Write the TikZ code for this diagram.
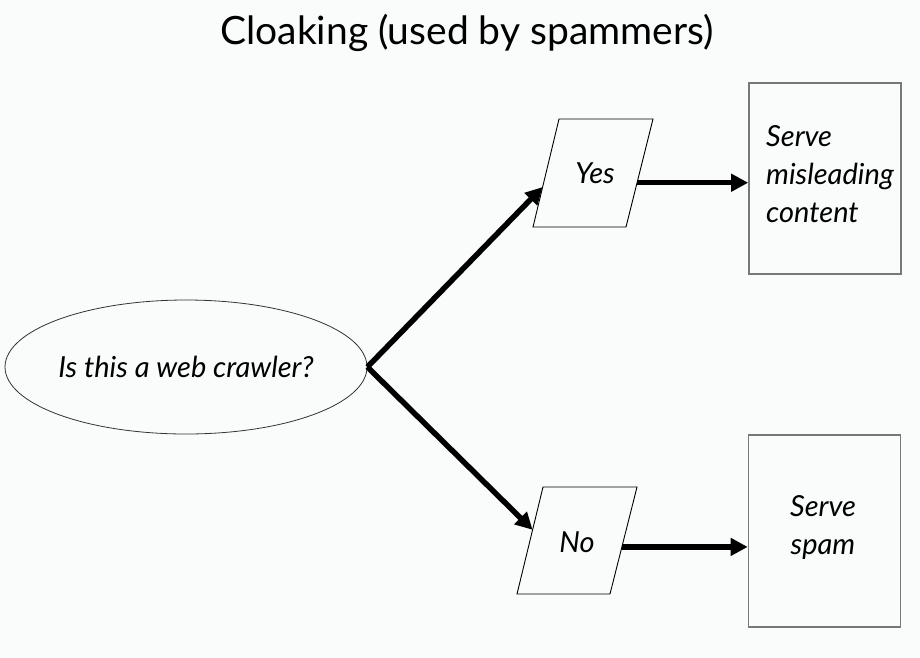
\documentclass[tikz,border=0pt]{standalone}
\usepackage{fontspec}
\setmainfont{Lato}
\usetikzlibrary{arrows.meta,calc,shapes.geometric}
\definecolor{bgc}{RGB}{250,252,252}
\definecolor{boxc}{RGB}{120,120,120}
\begin{document}
\begin{tikzpicture}[x=1pt,y=-1pt,
  flow/.style={line width=5.5pt,-{Triangle[length=17pt,width=17pt]}},
  para/.style={draw=black,line width=0.9pt},
  lbl/.style={inner sep=0pt,font=\fontsize{29}{38}\selectfont\itshape},
  result/.style={draw=boxc,line width=1.6pt,minimum width=152pt,minimum height=191pt,inner sep=0pt}]
\fill[bgc] (0,0) rectangle (920,657);
\useasboundingbox (0,0) rectangle (920,657);
\node (title) at (467,33) {\fontsize{39}{44}\selectfont Cloaking (used by spammers)};
\node[draw=black!80,line width=0.8pt,ellipse,minimum width=362pt,minimum height=134pt,inner sep=0pt,font=\fontsize{29}{34}\selectfont\itshape] (q) at (186,367) {Is this a web crawler?};
% Yes parallelogram
\coordinate (ytl) at (559,119); \coordinate (ytr) at (653,119);
\coordinate (ybr) at (626,227); \coordinate (ybl) at (533,227);
\draw[para] (ytl) -- (ytr) -- (ybr) -- (ybl) -- cycle;
\node[lbl] (yes) at (595,173) {Yes};
% No parallelogram
\coordinate (ntl) at (543,487); \coordinate (ntr) at (637,487);
\coordinate (nbr) at (610,594); \coordinate (nbl) at (517,594);
\draw[para] (ntl) -- (ntr) -- (nbr) -- (nbl) -- cycle;
\node[lbl] (no) at (577,542) {No};
\node[result] (b1) at (825,178.5) {};
\node[result,minimum height=192pt] (b2) at (824.5,531) {};
\node[lbl,anchor=west,align=left] (t1) at (766,174) {Serve\\misleading\\content};
\node[lbl,align=center] (t2) at (823,527) {Serve\\spam};
\coordinate (yin) at ($(ybl)!0.37!(ytl)$);
\coordinate (nin) at ($(nbl)!0.6!(ntl)$);
\coordinate (yout) at ($(ybr)!0.41!(ytr)$);
\coordinate (nout) at ($(nbr)!0.44!(ntr)$);
\draw[flow] (q.east) -- (yin);
\draw[flow] (q.east) -- (nin);
\draw[flow] (yout) -- (b1.west |- yout);
\draw[flow] (nout) -- (b2.west |- nout);
\end{tikzpicture}
\end{document}
